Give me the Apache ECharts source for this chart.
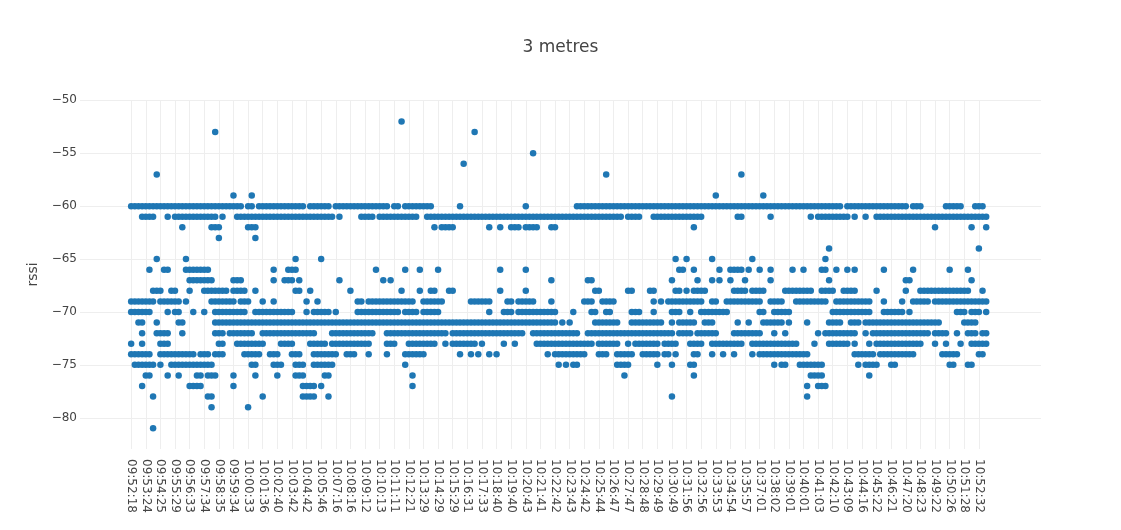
<!DOCTYPE html>
<html>
<head>
<meta charset="utf-8">
<title>3 metres</title>
<script src="https://cdn.jsdelivr.net/npm/echarts@6/dist/echarts.min.js"></script>
<style>
  html, body { margin: 0; padding: 0; background: #fff; }
  #chart { width: 1121px; height: 530px; }
</style>
</head>
<body>
<div id="chart"></div>
<script>
// x tick labels, one every 4 samples
const tickLabels = [
    '09:52:18', '09:53:24', '09:54:25', '09:55:29', '09:56:33', '09:57:34', '09:58:35', '09:59:34',
    '10:00:33', '10:01:36', '10:02:40', '10:03:42', '10:04:42', '10:05:46', '10:07:16', '10:08:16',
    '10:09:12', '10:10:13', '10:11:11', '10:12:21', '10:13:29', '10:14:29', '10:15:29', '10:16:31',
    '10:17:33', '10:18:40', '10:19:40', '10:20:43', '10:21:41', '10:22:42', '10:23:43', '10:24:42',
    '10:25:44', '10:26:47', '10:27:47', '10:28:48', '10:29:49', '10:30:49', '10:31:56', '10:32:56',
    '10:33:53', '10:34:54', '10:35:57', '10:37:01', '10:38:02', '10:39:01', '10:40:01', '10:41:03',
    '10:42:10', '10:43:09', '10:44:16', '10:45:22', '10:46:21', '10:47:20', '10:48:23', '10:49:22',
    '10:50:26', '10:51:28', '10:52:32'
];
const sampleCount = 235;

// rssi readings: for each level, the sample indexes where it was seen
// [first, last] is a run of samples, a lone number is one sample
const at52 = [74];
const at53 = [23, 94];
const at55 = [110];
const at56 = [91];
const at57 = [7, 130, 167];
const at59 = [28, 33, 160, 173];
const at60 = [[0,30],[32,33],[35,47],[49,54],[56,70],[72,73],[75,82],90,108,[122,194],[196,212],[214,216],[223,227],[231,233]];
const at61 = [[3,6],10,[12,23],25,[29,55],57,[63,66],[68,78],[81,134],[136,139],[143,156],[166,167],175,186,[188,196],198,201,[204,234]];
const at62 = [14,[22,24],[32,34],83,[85,88],98,101,[104,106],[108,111],[115,116],154,220,230,234];
const at63 = [24, 34];
const at64 = [191, 232];
const at65 = [7, 15, 45, 52, 149, 152, 159, 170, 190];
const at66 = [5,[9,10],[15,21],39,[43,45],67,75,79,84,101,108,[150,151],154,161,[164,167],169,172,175,181,184,[189,190],193,196,198,206,214,224,229];
const at67 = [[16,22],[28,30],39,[42,44],46,57,69,71,115,[125,126],148,155,159,161,164,168,175,191,[212,213],230];
const at68 = [[6,8],[11,12],16,[20,26],[28,31],34,[45,46],49,60,74,79,[82,83],[87,88],101,108,[127,128],[136,137],[142,143],[149,150],152,[154,157],[165,168],[170,173],[179,186],[189,192],[195,198],204,212,[216,229],233];
const at69 = [[0,6],[8,13],15,[22,28],[30,32],36,39,48,51,[62,63],[65,77],[80,85],[93,98],[103,104],[106,110],115,[124,126],[129,132],143,145,[147,156],[159,160],[163,172],[175,178],[182,190],[193,202],206,211,[214,218],[220,234]];
const at70 = [[0,5],10,[12,13],17,20,[23,31],[34,44],48,[50,54],56,[62,73],[75,78],[80,84],98,[102,104],[106,116],121,[126,127],[130,131],[137,139],143,[148,150],153,[156,163],[172,173],[176,180],[192,202],[206,211],213,[226,228],[230,232],234];
const at71 = [[2,3],7,[13,14],[23,116],118,120,[127,133],[137,145],148,[150,154],[157,159],166,169,[173,178],180,185,[191,194],[197,199],[201,221],[228,231]];
const at72 = [3,[7,10],14,[23,25],[27,33],[36,50],[55,66],[70,86],[88,107],[110,122],[125,148],[150,153],[155,160],[165,172],176,179,188,[190,198],201,[203,218],[220,223],226,[229,231],[233,234]];
const at73 = [0,3,[8,10],[24,25],[29,36],[41,44],[49,53],[55,65],[70,72],[76,83],86,[88,94],96,102,105,[111,126],[128,133],136,[138,144],[146,149],[153,156],[159,167],[170,182],187,[191,196],198,202,[204,216],220,223,227,[230,234]];
const at74 = [[0,5],[8,17],[19,21],[23,25],[31,35],[38,40],[44,46],[50,56],[59,61],65,70,[75,80],90,93,95,98,100,114,[116,124],[128,130],[133,137],[140,144],[146,147],149,[154,155],159,162,165,170,[172,185],[198,203],[205,214],[222,226],[232,233]];
const at75 = [[1,6],8,[11,22],[33,34],[39,41],[45,47],[50,55],75,117,119,[121,122],[133,136],144,148,[153,154],176,[178,179],[183,189],199,[201,204],[208,209],[224,225],[229,230]];
const at76 = [[4,5],10,13,[18,19],[21,23],28,34,40,[45,47],[53,54],77,135,154,[186,189],202];
const at77 = [3,[16,19],28,[47,50],52,77,185,[188,190]];
const at78 = [6,[21,22],36,[47,50],54,148,185];
const at79 = [22, 32];
const at81 = [6];

const rows = [
    [-52, at52], [-53, at53], [-55, at55], [-56, at56], [-57, at57], [-59, at59],
    [-60, at60], [-61, at61], [-62, at62], [-63, at63], [-64, at64], [-65, at65],
    [-66, at66], [-67, at67], [-68, at68], [-69, at69], [-70, at70], [-71, at71],
    [-72, at72], [-73, at73], [-74, at74], [-75, at75], [-76, at76], [-77, at77],
    [-78, at78], [-79, at79], [-81, at81]
];

// empty categories either side so the dots sit off the plot edges
const padLeft = 14;
const padRight = 15;
const font = 'DejaVu Sans';

const categories = [];
for (let i = 0; i < padLeft + sampleCount + padRight; i++) {
    const s = i - padLeft;
    categories.push(s >= 0 && s % 4 === 0 && tickLabels[s / 4] ? tickLabels[s / 4] : '');
}

const points = [];
rows.forEach(function (row) {
    const level = row[0];
    row[1].forEach(function (span) {
        const first = typeof span === 'number' ? span : span[0];
        const last = typeof span === 'number' ? span : span[1];
        for (let s = first; s <= last; s++) {
            points.push([s + padLeft, level]);
        }
    });
});

const hasLabel = function (index, value) {
    return value !== '';
};

const chart = echarts.init(document.getElementById('chart'));
chart.setOption({
    animation: false,
    backgroundColor: '#fff',
    title: {
        text: '3 metres',
        left: 'center',
        top: 34,
        textStyle: { fontFamily: font, fontSize: 17, fontWeight: 'normal', color: '#444' }
    },
    grid: { left: 80, right: 80, top: 100, bottom: 81, containLabel: false, outerBoundsMode: 'none' },
    xAxis: {
        type: 'category',
        data: categories,
        boundaryGap: false,
        axisLine: { show: false },
        axisTick: { show: false },
        axisLabel: {
            interval: hasLabel,
            rotate: -90,
            margin: 10,
            fontFamily: font,
            fontSize: 12,
            color: '#444'
        },
        splitLine: { show: true, interval: hasLabel, lineStyle: { color: '#eeeeee', width: 1 } }
    },
    yAxis: {
        type: 'value',
        min: -82.95,
        max: -49.97,
        minInterval: 5,
        maxInterval: 5,
        name: 'rssi',
        nameLocation: 'middle',
        nameGap: 36,
        nameTextStyle: { fontFamily: font, fontSize: 14, color: '#444' },
        axisLine: { show: false },
        axisTick: { show: false },
        axisLabel: {
            margin: 3,
            showMinLabel: false,
            showMaxLabel: false,
            fontFamily: font,
            fontSize: 12,
            color: '#444',
            formatter: function (v) { return String(v).replace('-', '\u2212'); }
        },
        splitLine: { show: true, showMinLine: false, showMaxLine: false, lineStyle: { color: '#eeeeee', width: 1 } }
    },
    series: [{
        type: 'scatter',
        data: points,
        symbolSize: 6.5,
        itemStyle: { color: '#1f77b4', opacity: 1 },
        emphasis: { disabled: true }
    }]
});
</script>
</body>
</html>
